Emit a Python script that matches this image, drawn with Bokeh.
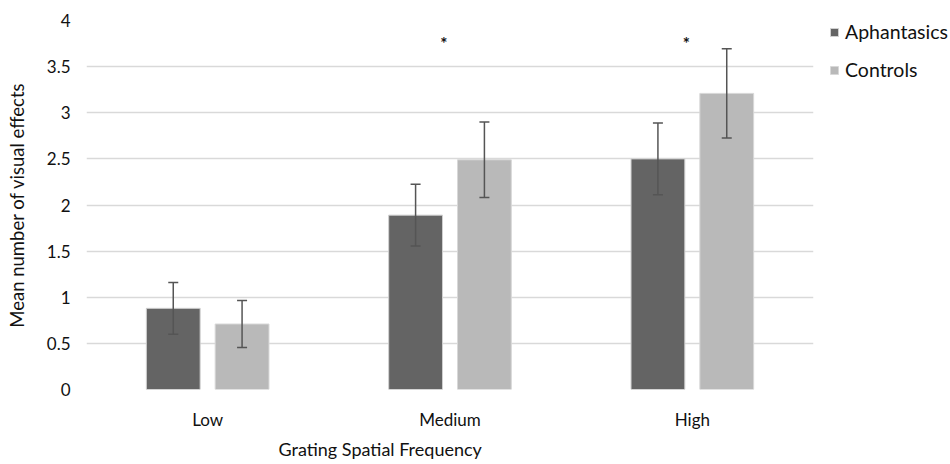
from bokeh.plotting import figure
from bokeh.models import FactorRange, Range1d, ColumnDataSource, FixedTicker, Legend, LegendItem, Title
from bokeh.transform import dodge
from bokeh.core.properties import value
from bokeh.embed import file_html
from bokeh.resources import INLINE

categories = ["Low", "Medium", "High"]
aphantasics = [0.88, 1.89, 2.50]
aphantasics_err = [0.28, 0.335, 0.39]
controls = [0.71, 2.49, 3.21]
controls_err = [0.255, 0.41, 0.485]
significant = ["", "*", "*"]
y_ticks = [0, 0.5, 1, 1.5, 2, 2.5, 3, 3.5, 4]
y_tick_labels = ["0", "0.5", "1", "1.5", "2", "2.5", "3", "3.5", "4"]

FONT = "Lato"
DARK = "#646464"
LIGHT = "#b9b9b9"
TXT = "#111111"

src = ColumnDataSource(dict(
    cat=categories,
    a=aphantasics,
    a_lo=[v - e for v, e in zip(aphantasics, aphantasics_err)],
    a_hi=[v + e for v, e in zip(aphantasics, aphantasics_err)],
    c=controls,
    c_lo=[v - e for v, e in zip(controls, controls_err)],
    c_hi=[v + e for v, e in zip(controls, controls_err)],
))
star_src = ColumnDataSource(dict(cat=categories, txt=significant))

p = figure(frame_width=727, frame_height=369, output_backend="svg", toolbar_location=None,
           x_range=FactorRange(factors=categories, range_padding=0),
           y_range=Range1d(0, 4),
           min_border_left=86, min_border_right=130, min_border_top=20, min_border_bottom=73)
p.outline_line_color = None
p.background_fill_color = "white"
p.border_fill_color = "white"

off = 0.142
bw = 0.222
ra = p.vbar(x=dodge("cat", -off, range=p.x_range), top="a", width=bw, source=src,
            fill_color=DARK, line_color="#d0d0d0", line_width=1)
rc = p.vbar(x=dodge("cat", off, range=p.x_range), top="c", width=bw, source=src,
            fill_color=LIGHT, line_color="#d8d8d8", line_width=1)

ERR = "#555555"
for key, o in (("a", -off), ("c", off)):
    xx = dodge("cat", o, range=p.x_range)
    p.segment(x0=xx, y0=key + "_lo", x1=xx, y1=key + "_hi", source=src,
              line_color=ERR, line_width=1.5)
    p.scatter(x=xx, y=key + "_lo", marker="dash", size=10, source=src,
              line_color=ERR, line_width=1.5)
    p.scatter(x=xx, y=key + "_hi", marker="dash", size=10, source=src,
              line_color=ERR, line_width=1.5)

p.text(x=dodge("cat", -0.025, range=p.x_range), y=3.75, text="txt", source=star_src,
       text_font=value(FONT), text_font_size="17px", text_font_style="bold", text_color=TXT,
       text_align="center", text_baseline="middle")

p.xgrid.grid_line_color = None
p.ygrid.grid_line_color = "#d9d9d9"
p.ygrid.grid_line_width = 1.5
p.yaxis.ticker = FixedTicker(ticks=y_ticks)
p.yaxis.major_label_overrides = {t: l for t, l in zip(y_ticks, y_tick_labels)}

for ax in (p.xaxis, p.yaxis):
    ax.axis_line_color = None
    ax.major_tick_line_color = None
    ax.minor_tick_line_color = None
    ax.major_tick_out = 0
    ax.major_tick_in = 0
    ax.minor_tick_out = 0
    ax.minor_tick_in = 0
    ax.major_label_text_font = FONT
    ax.major_label_text_font_size = "17px"
    ax.major_label_text_color = TXT
    ax.axis_label_text_font = FONT
    ax.axis_label_text_font_style = "normal"
    ax.axis_label_text_color = TXT

p.yaxis.axis_label = "Mean number of visual effects"
p.yaxis.axis_label_text_font_size = "18.5px"
p.yaxis.major_label_standoff = 16
p.yaxis.axis_label_standoff = 16
p.xaxis.major_label_standoff = 19

xtitle = Title(text="Grating Spatial Frequency", align="left", offset=192,
               text_font=FONT, text_font_size="18px", text_font_style="normal",
               text_color=TXT, standoff=7)
p.add_layout(xtitle, "below")

legend = Legend(items=[LegendItem(label="Aphantasics", renderers=[ra]),
                       LegendItem(label="Controls", renderers=[rc])],
                location=(16, 308))
legend.label_text_font = FONT
legend.label_text_font_size = "19.5px"
legend.label_text_color = TXT
legend.glyph_width = 10
legend.glyph_height = 10
legend.label_standoff = 6
legend.spacing = 15
legend.margin = 0
legend.padding = 0
legend.border_line_color = None
legend.background_fill_alpha = 0
p.add_layout(legend, "right")

open("out.html", "w").write(file_html(p, INLINE))
